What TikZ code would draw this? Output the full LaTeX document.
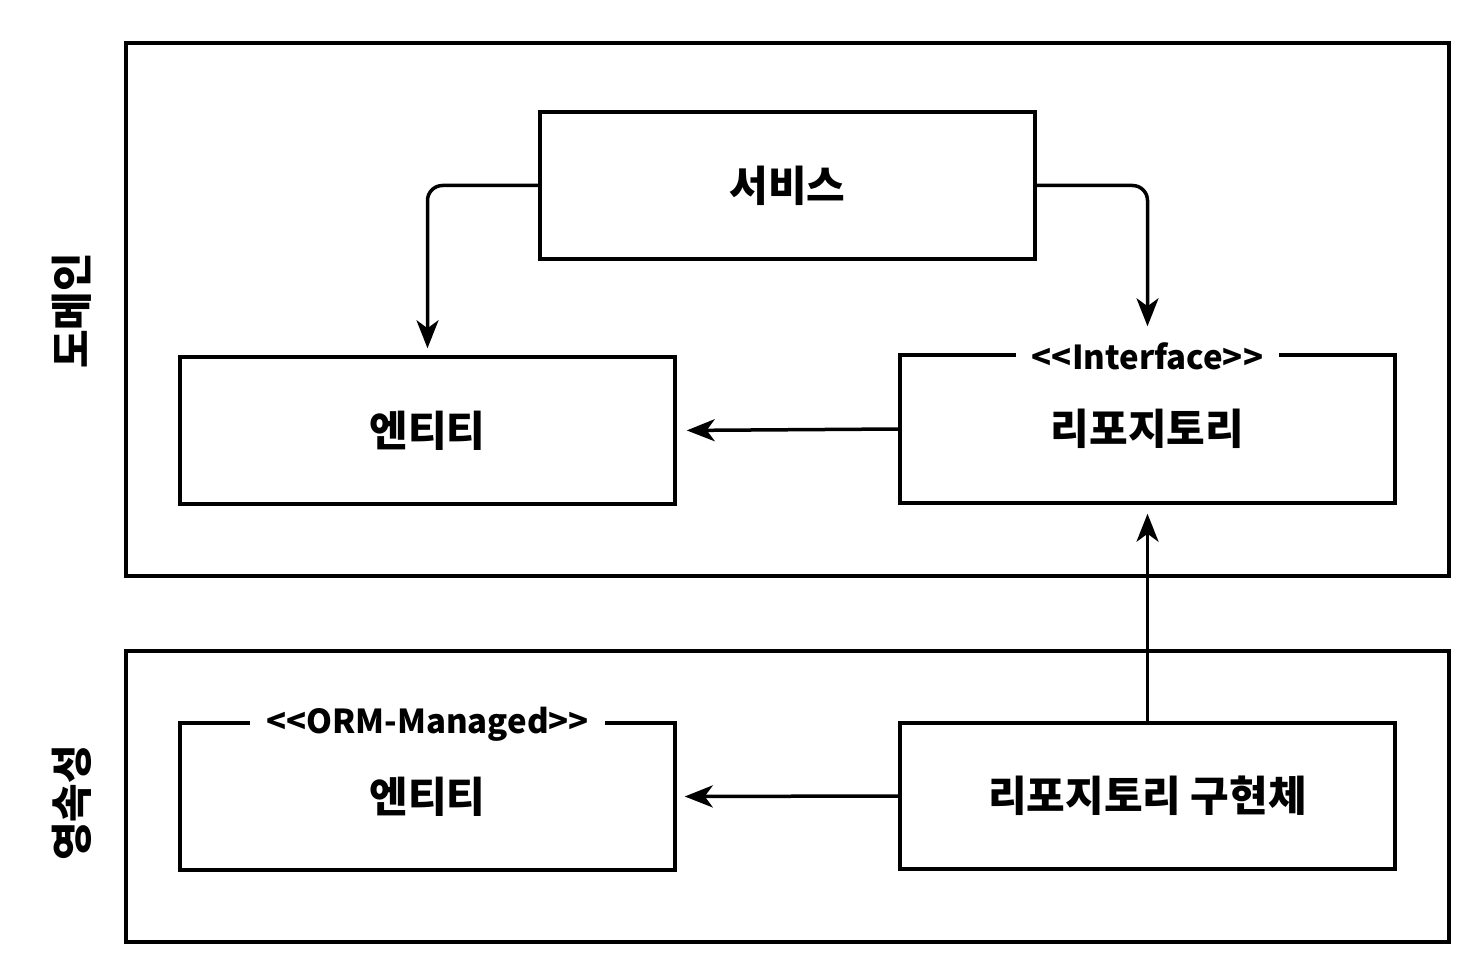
\documentclass[tikz,border=0pt]{standalone}
\usepackage{fontspec}
\setmainfont{Noto Sans CJK KR}
\usetikzlibrary{arrows.meta}
\tikzset{
  box/.style={draw, line width=3.5pt, minimum width=495pt, minimum height=147pt, inner sep=0pt, font=\fontsize{42}{44}\selectfont\bfseries},
  layer/.style={draw, line width=3.5pt, minimum width=1323pt, inner sep=0pt},
  stereo/.style={fill=white, inner xsep=16pt, inner ysep=2pt, yshift=-3pt, font=\fontsize{33}{35}\selectfont\bfseries},
  side/.style={rotate=90, font=\fontsize{42}{44}\selectfont\bfseries},
  arr/.style={line width=3.5pt, -{Stealth[length=28pt, width=22pt, inset=8pt]}, rounded corners=15pt}
}
\begin{document}
\begin{tikzpicture}[x=1pt, y=-1pt]
\useasboundingbox[fill=white] (0,0) rectangle (1482,968);
% layers
\node[layer, minimum height=533pt] (dom) at (787.5,309.5) {};
\node[layer, minimum height=291pt] (per) at (787.5,796.5) {};
\node[side] (domlab) at (72,311) {도메인};
\node[side] (perlab) at (72,803) {영속성};
% boxes
\node[box] (svc) at (787.5,185.5) {서비스};
\node[box] (ent1) at (427.5,430.5) {엔티티};
\node[box, minimum height=148pt] (repo) at (1147.5,429) {\raisebox{-2pt}{리포지토리}};
\node[stereo] (repost) at (repo.north) {<\kern0pt<Interface>\kern0pt>};
\node[box] (ent2) at (427.5,796.5) {엔티티};
\node[stereo] (ent2st) at (ent2.north) {<\kern0pt<ORM-Managed>\kern0pt>};
\node[box, minimum height=146pt] (impl) at (1147.5,796) {리포지토리 구현체};
% connectors
\draw[arr, shorten >=7pt] (svc.west) -| (ent1.north);
\draw[arr, shorten >=27pt] (svc.east) -| (repo.north);
\draw[arr, shorten >=10pt] (repo.west) -- (ent1.east);
\draw[arr, shorten >=9pt] (impl.north) -- (repo.south);
\draw[arr, shorten >=8pt] (impl.west) -- (ent2.east);
\end{tikzpicture}
\end{document}
